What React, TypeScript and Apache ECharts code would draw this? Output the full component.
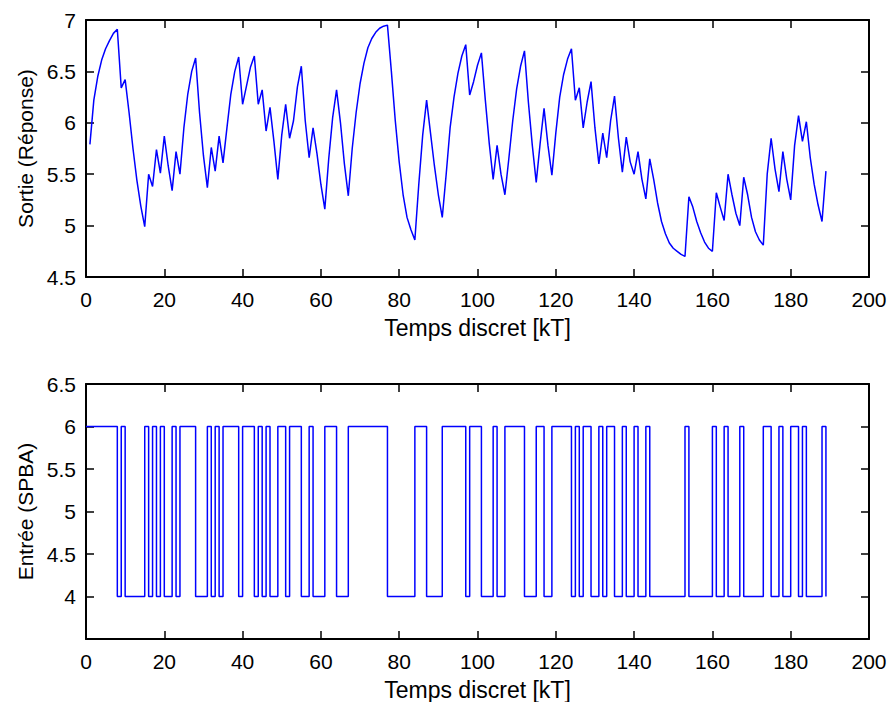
import React, { useEffect, useRef } from "react";
import * as echarts from "echarts";

// Output response y(k), k = 1..189
const outputStartK = 1;
const outputValues: number[] = [
  5.79, 6.22, 6.45, 6.61, 6.72, 6.80, 6.87, 6.91, 6.34, 6.42,
  6.10, 5.75, 5.44, 5.19, 4.99, 5.50, 5.38, 5.74, 5.51, 5.87,
  5.58, 5.34, 5.72, 5.50, 5.95, 6.28, 6.50, 6.63, 6.10, 5.68,
  5.37, 5.76, 5.53, 5.87, 5.61, 5.95, 6.28, 6.50, 6.64, 6.18,
  6.36, 6.54, 6.65, 6.18, 6.32, 5.92, 6.15, 5.82, 5.45, 5.88,
  6.18, 5.85, 6.02, 6.35, 6.55, 6.02, 5.66, 5.95, 5.70, 5.40,
  5.16, 5.65, 6.05, 6.32, 6.00, 5.60, 5.29, 5.75, 6.10, 6.38,
  6.58, 6.73, 6.82, 6.88, 6.92, 6.94, 6.95, 6.50, 6.02, 5.62,
  5.30, 5.08, 4.96, 4.86, 5.40, 5.88, 6.22, 5.90, 5.58, 5.30,
  5.08, 5.50, 5.95, 6.25, 6.48, 6.65, 6.76, 6.27, 6.40, 6.56,
  6.68, 6.22, 5.80, 5.45, 5.78, 5.50, 5.30, 5.65, 6.02, 6.33,
  6.55, 6.70, 6.20, 5.78, 5.42, 5.80, 6.14, 5.78, 5.49, 5.90,
  6.25, 6.47, 6.62, 6.72, 6.22, 6.34, 5.95, 6.20, 6.40, 5.95,
  5.60, 5.90, 5.66, 6.02, 6.26, 5.85, 5.52, 5.86, 5.62, 5.50,
  5.72, 5.45, 5.26, 5.65, 5.45, 5.22, 5.04, 4.92, 4.83, 4.78,
  4.75, 4.72, 4.70, 5.28, 5.18, 5.04, 4.93, 4.84, 4.78, 4.75,
  5.32, 5.18, 5.05, 5.50, 5.30, 5.12, 5.00, 5.47, 5.30, 5.08,
  4.94, 4.86, 4.81, 5.50, 5.85, 5.55, 5.33, 5.72, 5.45, 5.25,
  5.78, 6.07, 5.82, 6.01, 5.66, 5.40, 5.20, 5.04, 5.53,
];

// Input signal u(k) (SPBA), k = 0..189
const inputStartK = 0;
const inputValues: number[] = [
  6, 6, 6, 6, 6, 6, 6, 6, 4, 6,
  4, 4, 4, 4, 4, 6, 4, 6, 4, 6,
  4, 4, 6, 4, 6, 6, 6, 6, 4, 4,
  4, 6, 4, 6, 4, 6, 6, 6, 6, 4,
  6, 6, 6, 4, 6, 4, 6, 4, 4, 6,
  6, 4, 6, 6, 6, 4, 4, 6, 4, 4,
  4, 6, 6, 6, 4, 4, 4, 6, 6, 6,
  6, 6, 6, 6, 6, 6, 6, 4, 4, 4,
  4, 4, 4, 4, 6, 6, 6, 4, 4, 4,
  4, 6, 6, 6, 6, 6, 6, 4, 6, 6,
  6, 4, 4, 4, 6, 4, 4, 6, 6, 6,
  6, 6, 4, 4, 4, 6, 6, 4, 4, 6,
  6, 6, 6, 6, 4, 6, 4, 6, 6, 4,
  4, 6, 4, 6, 6, 4, 4, 6, 4, 4,
  6, 4, 4, 6, 4, 4, 4, 4, 4, 4,
  4, 4, 4, 6, 4, 4, 4, 4, 4, 4,
  6, 4, 4, 6, 4, 4, 4, 6, 4, 4,
  4, 4, 4, 6, 6, 4, 4, 6, 4, 4,
  6, 6, 4, 6, 4, 4, 4, 4, 6, 4,
];

const xTitle = "Temps discret [kT]";
const yTitleTop = "Sortie (Réponse)";
const yTitleBottom = "Entrée (SPBA)";

const xRange = { min: 0, max: 200, interval: 20 };
const yRangeTop = { min: 4.5, max: 7, interval: 0.5 };
const yRangeBottom = { min: 3.5, max: 6.5, interval: 0.5 };
const hiddenBottomLabel = 3.5;

const FONT = "'Liberation Sans', Arial, Helvetica, sans-serif";
const BLUE = "#0000ff";

function App() {
  const ref = useRef<HTMLDivElement>(null);

  useEffect(() => {
    if (!ref.current) return;
    const chart = echarts.init(ref.current, undefined, { renderer: "svg" });

    const axisLine = { show: true, onZero: false, lineStyle: { color: "#000", width: 2 } };
    const axisTick = { show: true, inside: true, length: 8, lineStyle: { color: "#000", width: 1.5 } };
    const label = { color: "#000", fontSize: 21, fontFamily: FONT };

    const mkX = (gridIndex: number, position: "bottom" | "top", withLabels: boolean) => ({
      type: "value",
      gridIndex,
      position,
      ...xRange,
      axisLine,
      axisTick,
      splitLine: { show: false },
      axisLabel: withLabels ? { ...label, margin: 12 } : { show: false },
      name: withLabels ? xTitle : "",
      nameLocation: "middle",
      nameGap: 39,
      nameTextStyle: { color: "#000", fontSize: 23, fontFamily: FONT },
    });

    const mkY = (
      gridIndex: number,
      position: "left" | "right",
      range: { min: number; max: number; interval: number },
      withLabels: boolean,
      title: string,
      hide?: number
    ) => ({
      type: "value",
      gridIndex,
      position,
      ...range,
      axisLine,
      axisTick,
      splitLine: { show: false },
      axisLabel: withLabels
        ? {
            ...label,
            margin: 10,
            formatter: (v: number) => (hide !== undefined && Math.abs(v - hide) < 1e-9 ? "" : String(v)),
          }
        : { show: false },
      name: withLabels ? title : "",
      nameLocation: "middle",
      nameGap: 50,
      nameTextStyle: { color: "#000", fontSize: 21, fontFamily: FONT },
    });

    const topData = outputValues.map((v, i) => [outputStartK + i, v]);
    const bottomData = inputValues.map((v, i) => [inputStartK + i, v]);

    chart.setOption({
      animation: false,
      backgroundColor: "#fff",
      textStyle: { fontFamily: FONT },
      grid: [
        { left: 86, top: 20, width: 783, height: 257, containLabel: false },
        { left: 86, top: 384, width: 783, height: 261, containLabel: false },
      ],
      xAxis: [mkX(0, "bottom", true), mkX(0, "top", false), mkX(1, "bottom", true), mkX(1, "top", false)],
      yAxis: [
        mkY(0, "left", yRangeTop, true, yTitleTop),
        mkY(0, "right", yRangeTop, false, ""),
        mkY(1, "left", yRangeBottom, true, yTitleBottom, hiddenBottomLabel),
        mkY(1, "right", yRangeBottom, false, ""),
      ],
      series: [
        {
          type: "line",
          xAxisIndex: 0,
          yAxisIndex: 0,
          data: topData,
          showSymbol: false,
          lineStyle: { color: BLUE, width: 1.5 },
        },
        {
          type: "line",
          xAxisIndex: 2,
          yAxisIndex: 2,
          data: bottomData,
          step: "end",
          showSymbol: false,
          lineStyle: { color: BLUE, width: 1.5 },
        },
      ],
    });

    return () => chart.dispose();
  }, []);

  return (
    <div
      ref={ref}
      style={{ position: "fixed", left: 0, top: 0, width: 890, height: 702, background: "#fff" }}
    />
  );
}

export default App;
